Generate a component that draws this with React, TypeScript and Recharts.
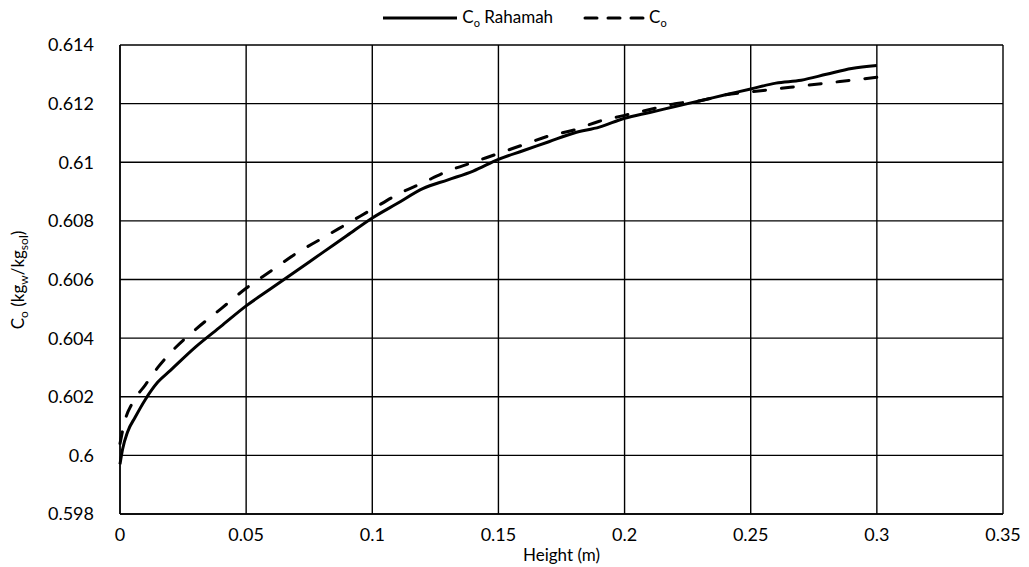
import { LineChart, Line, XAxis, YAxis, CartesianGrid } from 'recharts'

// Height (m) and concentration for each series
const rahamahHeight = [0, 0.001, 0.003, 0.006, 0.01, 0.015, 0.02, 0.03, 0.04, 0.05, 0.06, 0.07, 0.08, 0.09, 0.1, 0.11, 0.12, 0.13, 0.14, 0.15, 0.16, 0.17, 0.18, 0.19, 0.2, 0.21, 0.22, 0.23, 0.24, 0.25, 0.26, 0.27, 0.28, 0.29, 0.3]
const rahamahCo = [0.5997, 0.6002, 0.6008, 0.6013, 0.6019, 0.6025, 0.6029, 0.6037, 0.6044, 0.6051, 0.6057, 0.6063, 0.6069, 0.6075, 0.6081, 0.6086, 0.6091, 0.6094, 0.6097, 0.6101, 0.6104, 0.6107, 0.611, 0.6112, 0.6115, 0.6117, 0.6119, 0.6121, 0.6123, 0.6125, 0.6127, 0.6128, 0.613, 0.6132, 0.6133]

const coHeight = [0, 0.002, 0.005, 0.01, 0.015, 0.02, 0.03, 0.04, 0.05, 0.06, 0.07, 0.08, 0.09, 0.1, 0.11, 0.12, 0.13, 0.14, 0.15, 0.16, 0.17, 0.18, 0.19, 0.2, 0.21, 0.22, 0.23, 0.24, 0.25, 0.26, 0.27, 0.28, 0.29, 0.3]
const coValues = [0.6004, 0.6012, 0.6018, 0.6024, 0.603, 0.6035, 0.6043, 0.605, 0.6057, 0.6063, 0.6069, 0.6074, 0.6079, 0.6084, 0.6089, 0.6093, 0.6097, 0.61, 0.6103, 0.6106, 0.6109, 0.6111, 0.6114, 0.6116, 0.6118, 0.612, 0.6121, 0.6123, 0.6124, 0.6125, 0.6126, 0.6127, 0.6128, 0.6129]

const xTicks = [0, 0.05, 0.1, 0.15, 0.2, 0.25, 0.3, 0.35]
const yTicks = [0.598, 0.6, 0.602, 0.604, 0.606, 0.608, 0.61, 0.612, 0.614]

const rahamahData = rahamahHeight.map((h, i) => ({ h, v: rahamahCo[i] }))
const coData = coHeight.map((h, i) => ({ h, v: coValues[i] }))

const FONT = 'Lato, "Open Sans", sans-serif'

function LegendBox() {
  return (
    <div style={{ position: 'absolute', left: 0, top: 6, width: 1029, display: 'flex', justifyContent: 'center', alignItems: 'center', fontFamily: FONT, fontSize: 17, color: '#000', paddingLeft: 20, boxSizing: 'border-box' }}>
      <svg width={76} height={10}>
        <line x1={1} y1={5} x2={75} y2={5} stroke="#000" strokeWidth={3} />
      </svg>
      <span style={{ marginLeft: 4 }}>C<sub style={{ fontSize: 11 }}>o</sub> Rahamah</span>
      <svg width={62} height={10} style={{ marginLeft: 30 }}>
        <line x1={2} y1={5} x2={60} y2={5} stroke="#000" strokeWidth={3} strokeDasharray="12 11" strokeLinecap="round" />
      </svg>
      <span style={{ marginLeft: 4 }}>C<sub style={{ fontSize: 11 }}>o</sub></span>
    </div>
  )
}

function YLabel() {
  return (
    <text x={24} y={280} transform="rotate(-90 24 280)" textAnchor="middle" fontFamily={FONT} fontSize={17} fill="#000">
      C<tspan fontSize={12} dy={4}>o</tspan>
      <tspan dy={-4}> (kg</tspan>
      <tspan fontSize={12} dy={4}>w</tspan>
      <tspan dy={-4}>/kg</tspan>
      <tspan fontSize={12} dy={4}>sol</tspan>
      <tspan dy={-4}>)</tspan>
    </text>
  )
}

export default function App() {
  return (
    <div style={{ position: 'absolute', left: 0, top: 0, width: 1029, height: 567, background: '#fff' }}>
      <LineChart width={1029} height={567} margin={{ top: 45, right: 26, bottom: 0, left: 0 }}>
        <CartesianGrid stroke="#000" strokeWidth={1.4} horizontalValues={yTicks} verticalValues={xTicks} />
        <XAxis
          type="number"
          dataKey="h"
          domain={[0, 0.35]}
          ticks={xTicks}
          tickFormatter={(v) => String(v)}
          tickLine={false}
          axisLine={{ stroke: '#000', strokeWidth: 1.4 }}
          tick={{ fill: '#000', fontSize: 18, fontFamily: FONT }}
          tickMargin={8}
          height={53}
          label={{ value: 'Height (m)', position: 'insideBottom', offset: 6, fill: '#000', fontSize: 17, fontFamily: FONT }}
          allowDuplicatedCategory={false}
        />
        <YAxis
          type="number"
          domain={[0.598, 0.614]}
          ticks={yTicks}
          tickFormatter={(v) => String(Number(v.toFixed(3)))}
          tickLine={false}
          axisLine={{ stroke: '#000', strokeWidth: 1.4 }}
          tick={{ fill: '#000', fontSize: 18, fontFamily: FONT }}
          tickMargin={20}
          width={120}
          label={<YLabel />}
        />
        <Line data={rahamahData} dataKey="v" type="monotone" stroke="#000" strokeWidth={3} dot={false} isAnimationActive={false} />
        <Line data={coData} dataKey="v" type="monotone" stroke="#000" strokeWidth={3} strokeDasharray="12 16" strokeLinecap="round" dot={false} isAnimationActive={false} />
      </LineChart>
      <LegendBox />
    </div>
  )
}
